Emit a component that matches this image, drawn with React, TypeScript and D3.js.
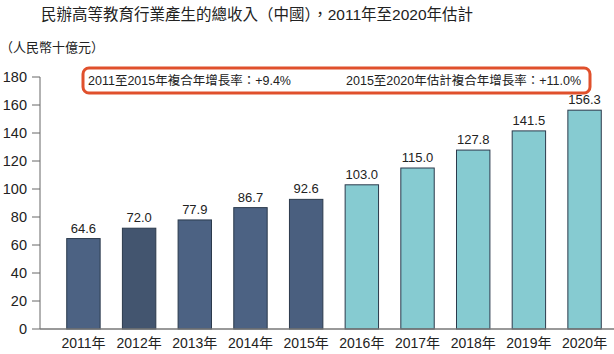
import * as d3 from 'd3';
import { useEffect, useRef } from 'react';

const years = ['2011年', '2012年', '2013年', '2014年', '2015年', '2016年', '2017年', '2018年', '2019年', '2020年'];
const revenue = [64.6, 72.0, 77.9, 86.7, 92.6, 103.0, 115.0, 127.8, 141.5, 156.3];
const barColors = ['#4c6283', '#43556f', '#4c6283', '#4c6283', '#4a5f7f', '#86cbd1', '#86cbd1', '#86cbd1', '#86cbd1', '#86cbd1'];
const yTicks = [0, 20, 40, 60, 80, 100, 120, 140, 160, 180];
const title = '民辦高等教育行業產生的總收入（中國），2011年至2020年估計';
const unitLabel = '（人民幣十億元）';
const cagrNotes = ['2011至2015年複合年增長率：+9.4%', '2015至2020年估計複合年增長率：+11.0%'];

const W = 614;
const H = 354;
const FONT = '"Liberation Sans", Arial, "Noto Sans CJK TC", sans-serif';

function App() {
  const ref = useRef<SVGSVGElement>(null);

  useEffect(() => {
    const svg = d3.select(ref.current);
    svg.selectAll('*').remove();
    svg.attr('width', W).attr('height', H).style('font-family', FONT);

    const x = d3.scaleBand().domain(years).range([40, 628]).paddingInner(0.4).paddingOuter(0.48);
    const y = d3.scaleLinear().domain([0, 180]).range([329, 77]);

    // title
    svg.append('text')
      .attr('x', 257).attr('y', 20)
      .attr('text-anchor', 'middle')
      .attr('font-size', 15.5)
      .attr('fill', '#222')
      .text(title);

    svg.append('text')
      .attr('x', 0).attr('y', 52)
      .attr('font-size', 13)
      .attr('fill', '#222')
      .text(unitLabel);

    // y axis
    const yAxis = svg.append('g');
    yAxis.append('line')
      .attr('x1', 40).attr('x2', 40)
      .attr('y1', y(180)).attr('y2', y(0))
      .attr('stroke', '#666').attr('stroke-width', 1);
    yTicks.forEach(t => {
      yAxis.append('line')
        .attr('x1', 32).attr('x2', 40)
        .attr('y1', y(t)).attr('y2', y(t))
        .attr('stroke', '#666');
      yAxis.append('text')
        .attr('x', 27).attr('y', y(t) + 5)
        .attr('text-anchor', 'end')
        .attr('font-size', 14.5)
        .attr('fill', '#222')
        .text(t);
    });

    // bars
    svg.append('g').selectAll('rect')
      .data(revenue)
      .enter()
      .append('rect')
      .attr('x', (d, i) => x(years[i])!)
      .attr('y', d => y(d))
      .attr('width', x.bandwidth())
      .attr('height', d => y(0) - y(d))
      .attr('fill', (d, i) => barColors[i])
      .attr('stroke', '#2b3a4c')
      .attr('stroke-width', 1);

    svg.append('g').selectAll('text')
      .data(revenue)
      .enter()
      .append('text')
      .attr('x', (d, i) => x(years[i])! + x.bandwidth() / 2)
      .attr('y', d => y(d) - 6)
      .attr('text-anchor', 'middle')
      .attr('font-size', 13)
      .attr('fill', '#222')
      .text(d => d.toFixed(1));

    // baseline
    svg.append('line')
      .attr('x1', 40).attr('x2', W)
      .attr('y1', y(0)).attr('y2', y(0))
      .attr('stroke', '#777').attr('stroke-width', 1.5);

    // x labels
    svg.append('g').selectAll('text')
      .data(years)
      .enter()
      .append('text')
      .attr('x', d => x(d)! + x.bandwidth() / 2)
      .attr('y', 348)
      .attr('text-anchor', 'middle')
      .attr('font-size', 14)
      .attr('fill', '#222')
      .text(d => d);

    // CAGR box
    svg.append('rect')
      .attr('x', 83).attr('y', 68)
      .attr('width', 507).attr('height', 25)
      .attr('rx', 6)
      .attr('fill', 'none')
      .attr('stroke', '#e0502c')
      .attr('stroke-width', 3);
    svg.append('text')
      .attr('x', 88).attr('y', 85)
      .attr('font-size', 12.5)
      .attr('fill', '#222')
      .text(cagrNotes[0]);
    svg.append('text')
      .attr('x', 581).attr('y', 85)
      .attr('text-anchor', 'end')
      .attr('font-size', 12.5)
      .attr('fill', '#222')
      .text(cagrNotes[1]);
  }, []);

  return (
    <svg ref={ref} style={{ position: 'absolute', left: 0, top: 0, background: '#fff' }}></svg>
  );
}

export default App;
